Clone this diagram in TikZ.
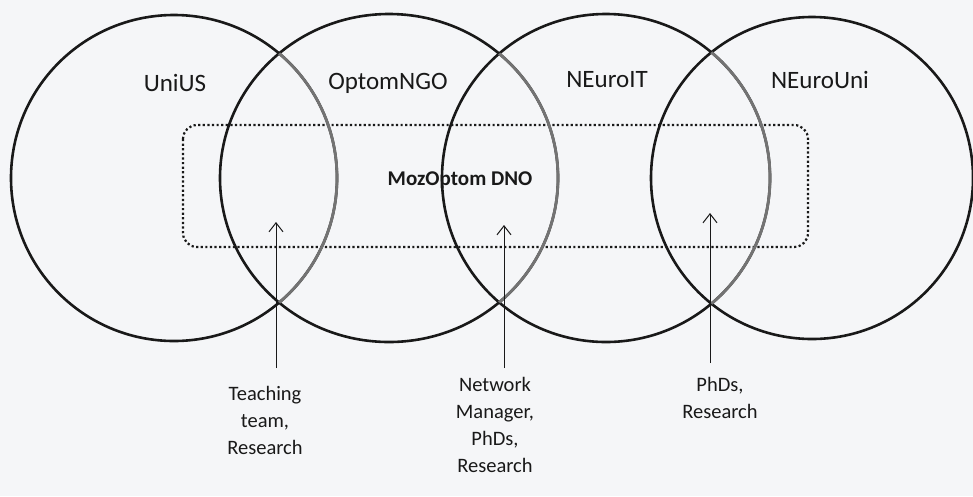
\documentclass[tikz,border=0pt]{standalone}
\usepackage{fontspec}
\setmainfont{Carlito}
\usetikzlibrary{arrows.meta}
\definecolor{paper}{RGB}{245,246,248}
\definecolor{ink}{RGB}{25,25,25}
\definecolor{lens}{RGB}{115,115,115}
\tikzset{
  ring/.style={draw=ink, line width=2.6pt},
  ringlight/.style={draw=lens, line width=2.8pt},
  partner/.style={font=\fontsize{25}{30}\selectfont, text=ink},
  role/.style={font=\fontsize{20.5}{27}\selectfont, text=ink, align=center, anchor=north, inner sep=0pt},
  pointer/.style={draw=ink, line width=1pt, -{Straight Barb[length=9pt,width=14pt,line width=1pt]}},
  netbox/.style={draw=ink, line width=2.2pt, dash pattern=on 2.2pt off 2.4pt, rounded corners=14pt}
}
\begin{document}
\begin{tikzpicture}[x=1pt,y=1pt]
\fill[paper] (0,0) rectangle (973,-496);
\useasboundingbox (0,0) rectangle (973,-496);

% ring centres
\coordinate (uc) at (174,-178);
\coordinate (oc) at (389,-178);
\coordinate (ic) at (606,-178);
\coordinate (nc) at (812,-178);

\draw[netbox] (183,-125) rectangle (808,-247);
\node[font=\fontsize{21}{25}\selectfont\bfseries, text=ink] (dno) at (460,-180) {MozOptom DNO};

\draw[ring] (uc) circle (163);
\draw[ring] (oc) ellipse (169 and 164);
\draw[ring] (ic) circle (164);
\draw[ring] (nc) circle (161);

% lighter arcs inside the overlaps
\begin{scope}
\clip (oc) ellipse (169 and 164);
\draw[ringlight] (uc) circle (163);
\end{scope}
\begin{scope}
\clip (ic) circle (164);
\draw[ringlight] (oc) ellipse (169 and 164);
\end{scope}
\begin{scope}
\clip (nc) circle (161);
\draw[ringlight] (ic) circle (164);
\end{scope}

\node[partner] (uni) at (175,-83) {UniUS};
\node[partner] (ngo) at (388,-83) {OptomNGO};
\node[partner] (nit) at (607,-80) {NEuroIT};
\node[partner] (nuni) at (820,-80) {NEuroUni};

% who sits in each overlap
\node[role] (teach) at (265,-386) {Teaching\\team,\\Research};
\node[role] (netman) at (495,-377) {Network\\Manager,\\PhDs,\\Research};
\node[role] (phd) at (720,-377) {PhDs,\\Research};

\coordinate (teachfoot) at (276,-368);
\coordinate (teachtip) at (276,-222);
\coordinate (netfoot) at (504,-368);
\coordinate (nettip) at (504,-225);
\coordinate (phdfoot) at (710,-363);
\coordinate (phdtip) at (710,-213);

\draw[pointer] (teachfoot) -- (teachtip);
\draw[pointer] (netfoot) -- (nettip);
\draw[pointer] (phdfoot) -- (phdtip);
\end{tikzpicture}
\end{document}
